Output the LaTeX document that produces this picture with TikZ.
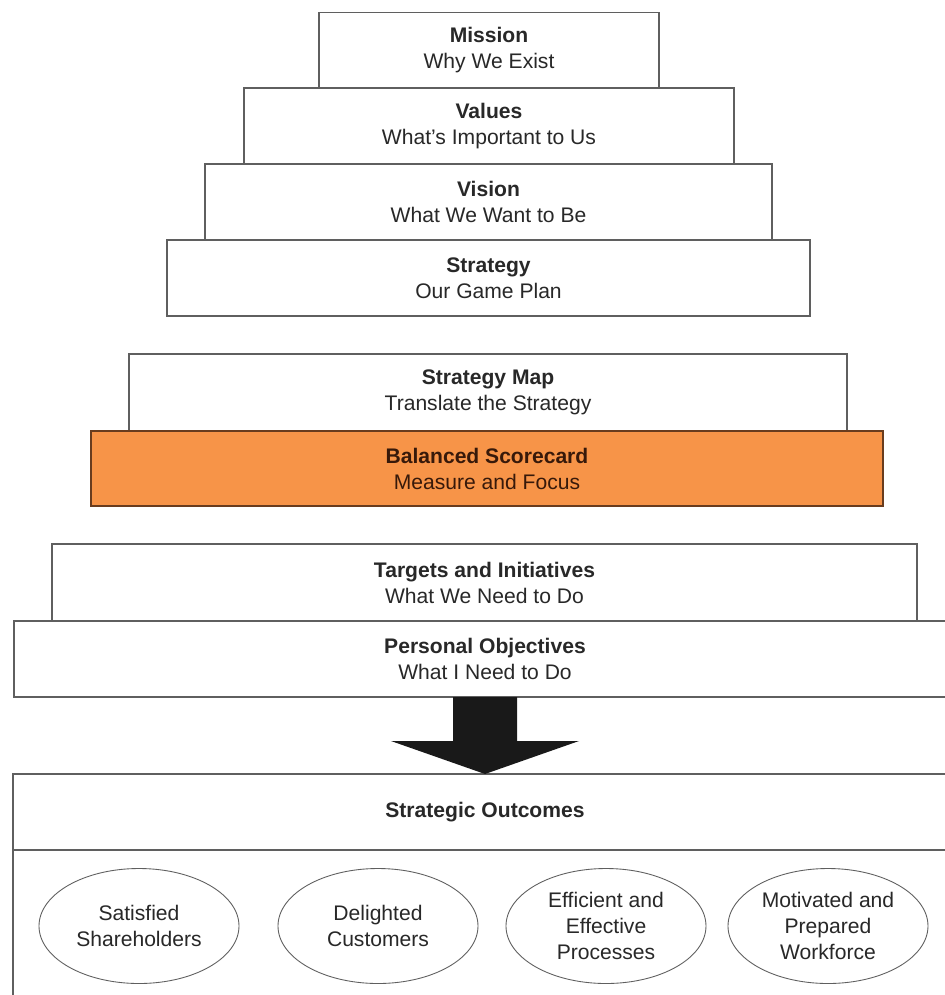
\documentclass[tikz,border=0pt]{standalone}
\usepackage{fontspec}
\setmainfont{Liberation Sans}
\usetikzlibrary{calc,shapes.geometric}
\definecolor{linegray}{RGB}{95,95,95}
\definecolor{scoreorange}{RGB}{247,148,72}
\definecolor{scoreedge}{RGB}{105,60,30}
\definecolor{scoretext}{RGB}{55,25,10}
\definecolor{inkgray}{RGB}{40,40,40}
\newcommand{\px}{0.02cm}
\newcommand{\tierfont}{\fontsize{12}{14.8}\selectfont}

\begin{document}
\begin{tikzpicture}[x=\px,y=-\px,
		tier/.style={draw=linegray,line width=0.6pt,fill=white,inner sep=0pt,align=center,
			text=inkgray,font=\tierfont,minimum height=76*\px},
		goal/.style={draw=linegray,line width=0.5pt,ellipse,inner sep=0pt,align=center,
			text=inkgray,font=\tierfont,minimum width=200*\px,minimum height=115*\px}]
		\useasboundingbox (0,0) rectangle (945,995);
		% the stepped tiers
		\node [tier,minimum width=340*\px] (mission) at (489,50.5) {\textbf{Mission}\\Why We Exist};
		\node [tier,minimum width=490*\px] (values) at (489,126) {\textbf{Values}\\What’s Important to Us};
		\node [tier,minimum width=567*\px] (vision) at (488.5,202) {\textbf{Vision}\\What We Want to Be};
		\node [tier,minimum width=643*\px] (strategy) at (488.5,278) {\textbf{Strategy}\\Our Game Plan};
		\node [tier,minimum width=718*\px,minimum height=77*\px] (map) at (488,392.5) {\textbf{Strategy Map}\\Translate the Strategy};
		\node [tier,fill=scoreorange,draw=scoreedge,text=scoretext,minimum width=792*\px,minimum height=75*\px] (bsc) at (487,468.5) {\textbf{Balanced Scorecard}\\Measure and Focus};
		\node [tier,minimum width=865*\px,minimum height=77*\px] (targets) at (484.5,582.5) {\textbf{Targets and Initiatives}\\What We Need to Do};
		\node [tier,minimum width=942*\px] (personal) at (485,659) {\textbf{Personal Objectives}\\What I Need to Do};
		% outcomes panel
		\node [tier,minimum width=944*\px] (outcomes) at (485,812) {\textbf{Strategic Outcomes}};
		\node [tier,minimum width=944*\px,minimum height=160*\px] (panel) at (485,930) {};
		\node [goal] (share) at (139,926) {Satisfied\\Shareholders};
		\node [goal] (cust) at (378,926) {Delighted\\Customers};
		\node [goal] (proc) at (606,926) {Efficient and\\Effective\\Processes};
		\node [goal] (work) at (828,926) {Motivated and\\Prepared\\Workforce};
		% block arrow
		\coordinate (tip) at (485,774);
		\fill [black!90] ($(tip)+(-32,-77)$) -- ++(64,0) -- ++(0,44) -- ++(62,0) -- (tip) -- ++(-94,-33) -- ++(62,0) -- cycle;
\end{tikzpicture}
\end{document}
